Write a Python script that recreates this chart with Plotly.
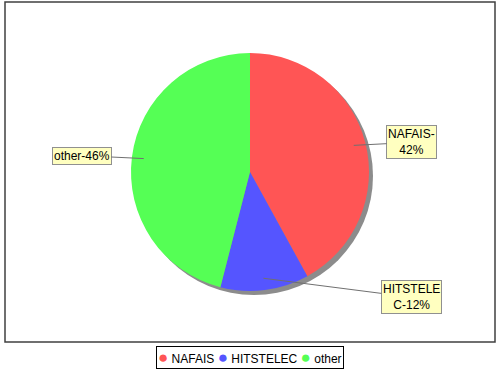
import math
import plotly.graph_objects as go

categories = ["NAFAIS", "HITSTELEC", "other"]
shares = [42, 12, 46]
label_texts = ["NAFAIS-<br>42%", "HITSTELE<br>C-12%", "other-46%"]

colors = ["#FF5555", "#5555FF", "#55FF55"]
label_offsets = [(58, -3), (148, 19), (-62, -3)]  # px offsets of label boxes from anchors

W, H = 500, 370
cx, cy, r = 250, 172, 119  # pie centre / radius in px
sh = 4  # shadow offset px
FONT = "Liberation Sans, Arial, sans-serif"

fig = go.Figure()

# shadow
fig.add_trace(go.Pie(
    values=[1], labels=["shadow"], marker=dict(colors=["#8C8C8C"], line=dict(width=0)),
    domain=dict(x=[(cx - r + sh) / W, (cx + r + sh) / W], y=[1 - (cy + r + sh) / H, 1 - (cy - r + sh) / H]),
    textinfo="none", hoverinfo="skip", showlegend=False, sort=False,
))

fig.add_trace(go.Pie(
    values=shares, labels=categories, marker=dict(colors=colors, line=dict(width=0)),
    domain=dict(x=[(cx - r) / W, (cx + r) / W], y=[1 - (cy + r) / H, 1 - (cy - r) / H]),
    textinfo="none", sort=False, direction="clockwise", rotation=0, showlegend=False,
))

# leader labels computed from data
total = sum(shares)
cum = 0
annotations = []
for v, txt, (ox, oy) in zip(shares, label_texts, label_offsets):
    mid = (cum + v / 2) / total * 2 * math.pi
    cum += v
    ax_px = cx + 0.9 * r * math.sin(mid)
    ay_px = cy - 0.9 * r * math.cos(mid)
    annotations.append(dict(
        x=ax_px / W, y=1 - ay_px / H, xref="paper", yref="paper",
        text=txt, showarrow=True, arrowhead=0, arrowwidth=1, arrowcolor="#707070",
        ax=ox, ay=oy, bgcolor="#FFFFC0", bordercolor="#909090", borderwidth=1, borderpad=1,
        font=dict(family=FONT, size=12, color="black"),
    ))

# compact legend built from categories/colors
legend_text = " ".join(
    f"<span style='color:{col}; font-size:17px'>●</span> {c}" for c, col in zip(categories, colors)
)
annotations.append(dict(
    x=0.5, y=1 - 357 / H, xref="paper", yref="paper", xanchor="center", yanchor="middle",
    text=legend_text, showarrow=False, bordercolor="black", borderwidth=1, borderpad=1,
    bgcolor="white", font=dict(family=FONT, size=12, color="black"),
))

fig.update_layout(
    width=W, height=H, margin=dict(l=0, r=0, t=0, b=0),
    paper_bgcolor="white", plot_bgcolor="white",
    annotations=annotations,
    shapes=[dict(type="rect", xref="paper", yref="paper",
                 x0=5 / W, x1=495 / W, y0=1 - 342 / H, y1=1 - 2 / H,
                 line=dict(color="#404040", width=1.5))],
    showlegend=False,
)

fig.write_html("out.html")
